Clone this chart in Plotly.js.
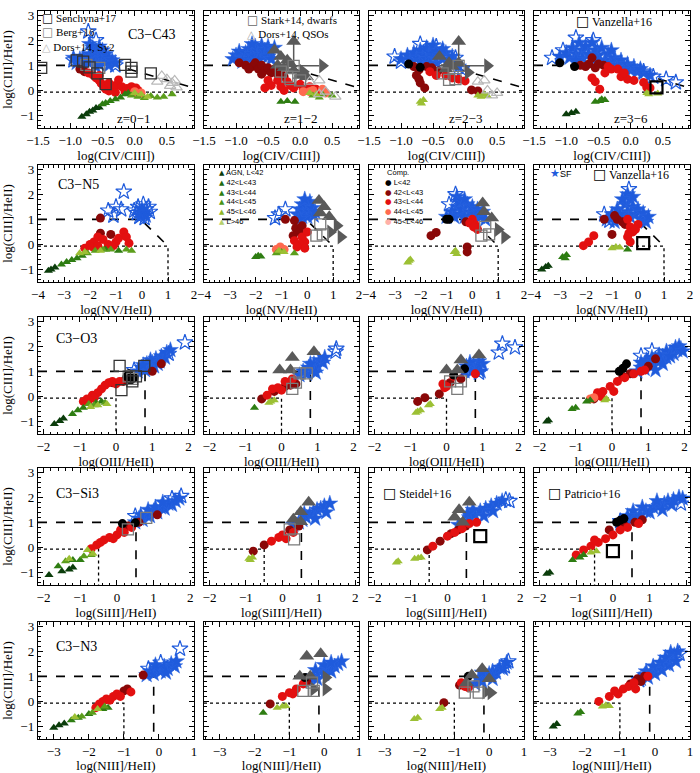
<!DOCTYPE html>
<html><head><meta charset="utf-8">
<script src="https://cdn.plot.ly/plotly-3.0.1.min.js"></script>
<style>body{margin:0;background:#fff}#plot{width:700px;height:773px}</style>
</head><body><div id="plot"></div>
<script>
// ---------------- DATA (index = row*4 + col) ----------------
const xTitles = ['log(CIV/CIII])','log(NV/HeII)','log(OIII/HeII)','log(SiIII]/HeII)','log(NIII]/HeII)'];
const yTitle = 'log(CIII]/HeII)';
const rowLabels = ['C3\u2212C43','C3\u2212N5','C3\u2212O3','C3\u2212Si3','C3\u2212N3'];
const zLabels = ['z=0\u22121','z=1\u22122','z=2\u22123','z=3\u22126'];
const xRanges = [[-1.5,0.92],[-4,2],[-2.15,2.15],[-2.15,2.1],[-3.45,1]];
const xDticks = [0.5,1,1,1,1];
const xMinor = [0.1,0.2,0.2,0.2,0.2];
const yRange = [-1.5,3.17];
const yTicks = [-1,0,1,2,3];

// dividing lines per row
const dashLines = [
  [[-1.5,1],[-0.3,1],[0.92,0.1]],
  [[-4,1],[-0.05,1],[1,-0.07]],
  [[-2.15,1],[0.8,1],[0.8,-1.5]],
  [[-2.15,1],[0.52,1],[0.52,-1.5]],
  [[-3.45,1],[-0.15,1],[-0.15,-1.5]]
];
const dotLines = [
  [[-1.5,-0.07],[0.92,-0.07]],
  [[-4,-0.07],[1,-0.07],[1,-1.5]],
  [[-2.15,-0.07],[0,-0.07],[0,-1.5]],
  [[-2.15,-0.07],[-0.5,-0.07],[-0.5,-1.5]],
  [[-3.45,-0.07],[-1,-0.07],[-1,-1.5]]
];

// star-forming models (filled blue stars)
const SF = [
 [[-0.9,1.1],[-0.85,1.25],[-0.8,1.35],[-0.75,1.2],[-0.7,1.45],[-0.7,1.1],[-0.65,1.3],[-0.6,1.55],[-0.6,1.2],[-0.55,1.4],[-0.55,1.05],[-0.5,1.3],[-0.5,1.6],[-0.45,1.15],[-0.45,1.45],[-0.4,1.3],[-0.4,1.0],[-0.35,1.2],[-0.3,1.1],[-0.65,1.7],[-0.7,1.85],[-0.95,1.3],[-0.55,1.75],[-0.6,0.95],[-0.8,1.0]],
 [[-1.0,1.4],[-0.95,1.55],[-0.9,1.3],[-0.85,1.5],[-0.8,1.65],[-0.8,1.25],[-0.75,1.45],[-0.7,1.75],[-0.7,1.35],[-0.65,1.55],[-0.6,1.8],[-0.6,1.4],[-0.55,1.6],[-0.5,1.75],[-0.5,1.35],[-0.45,1.5],[-0.4,1.7],[-0.9,1.15],[-0.65,1.2],[-0.75,1.85],[-1.05,1.25],[-0.45,1.25]],
 [[-1.0,1.25],[-0.9,1.4],[-0.85,1.2],[-0.8,1.5],[-0.75,1.3],[-0.7,1.6],[-0.7,1.15],[-0.65,1.4],[-0.6,1.7],[-0.6,1.25],[-0.55,1.5],[-0.5,1.35],[-0.5,1.8],[-0.45,1.55],[-0.45,1.1],[-0.4,1.4],[-0.35,1.25],[-0.3,1.5],[-0.25,1.2],[-0.2,1.35],[-0.15,1.1],[-0.1,0.95],[-0.55,1.05],[-0.35,1.65]],
 [[-1.1,1.35],[-1.0,1.5],[-0.95,1.3],[-0.9,1.7],[-0.85,1.45],[-0.8,1.9],[-0.75,1.6],[-0.75,1.3],[-0.7,1.75],[-0.65,1.45],[-0.6,1.9],[-0.6,1.25],[-0.55,1.6],[-0.5,1.4],[-0.45,1.7],[-0.4,1.2],[-0.35,1.45],[-0.3,1.1],[-0.25,1.3],[-0.2,1.0],[-0.15,1.2],[-0.1,0.9],[-0.05,1.05],[0.0,0.8],[0.05,0.95],[0.1,0.75],[0.15,0.85],[0.2,0.7],[-0.5,1.15],[-0.3,1.6],[-0.85,1.2],[0.3,0.6]],
 [[-0.1,1.3],[0.0,1.4],[0.1,1.25],[-0.05,1.15],[0.15,1.15]],
 [[-0.4,1.2],[-0.3,1.4],[-0.2,1.1],[-0.2,1.6],[-0.1,1.3],[0.0,1.5],[0.0,1.1],[0.1,1.7],[0.1,1.3],[0.2,1.45],[0.25,1.15],[-0.3,1.0],[0.3,1.3],[-0.1,1.8]],
 [[-1.0,1.1],[-0.8,1.3],[-0.7,1.1],[-0.6,1.5],[-0.5,1.2],[-0.4,1.4],[-0.3,1.1],[-0.2,1.6],[-0.1,1.3],[0.0,1.5],[0.1,1.2],[0.2,1.4],[0.3,1.1],[0.4,1.3],[-0.5,1.7],[-0.6,1.9],[-0.3,1.8],[0.5,1.0]],
 [[-1.2,1.0],[-1.0,1.2],[-0.9,0.9],[-0.8,1.4],[-0.6,1.1],[-0.5,1.6],[-0.4,1.3],[-0.3,1.8],[-0.3,1.1],[-0.2,1.5],[-0.1,1.2],[0.0,1.4],[0.1,1.0],[0.2,1.25],[0.3,0.9],[-0.4,2.0],[-0.2,1.9],[-0.6,1.8],[0.4,1.1],[-0.7,1.2]],
 [[0.6,1.0],[0.7,1.15],[0.8,1.05],[0.85,1.3],[0.9,1.2],[1.0,1.35],[1.05,1.2],[1.1,1.5],[1.2,1.4],[1.25,1.6],[1.35,1.55],[1.4,1.75],[1.5,1.85],[0.95,1.45],[0.75,1.25],[1.15,1.3]],
 [[0.5,0.85],[0.6,1.0],[0.7,0.9],[0.75,1.15],[0.85,1.05],[0.9,1.3],[1.0,1.2],[1.05,1.45],[1.15,1.35],[1.2,1.55],[0.8,1.3],[0.95,0.95]],
 [[0.5,1.0],[0.6,1.1],[0.7,1.0],[0.75,1.25],[0.85,1.15],[0.9,1.4],[1.0,1.3],[0.65,1.35],[0.95,1.0],[0.55,1.2]],
 [[0.7,1.0],[0.8,1.15],[0.9,1.1],[1.0,1.3],[1.1,1.2],[1.2,1.45],[1.3,1.4],[1.4,1.6],[1.5,1.55],[1.6,1.75],[1.7,1.7],[1.8,1.85],[1.9,1.9],[1.85,2.0],[1.5,1.8],[1.3,1.65],[1.1,1.55],[0.95,1.45],[1.4,1.3],[1.6,1.6],[1.75,1.95],[0.8,1.35],[1.2,1.05],[1.95,1.8]],
 [[0.5,1.0],[0.6,1.15],[0.7,1.1],[0.8,1.3],[0.9,1.25],[1.0,1.45],[1.1,1.4],[1.2,1.6],[1.3,1.55],[1.4,1.75],[1.5,1.7],[1.6,1.85],[1.7,1.95],[0.85,1.5],[1.05,1.6],[1.25,1.8],[0.65,1.3]],
 [[0.3,0.9],[0.45,1.0],[0.55,1.1],[0.65,1.2],[0.75,1.3],[0.85,1.4],[0.95,1.5],[1.05,1.55],[1.15,1.65],[1.3,1.75],[0.6,1.35],[0.9,1.15],[1.2,1.4]],
 [[0.3,0.9],[0.45,1.05],[0.6,1.2],[0.75,1.3],[0.9,1.45],[1.05,1.55],[1.2,1.65],[1.35,1.75],[1.5,1.85],[0.7,1.5],[1.0,1.25],[1.25,1.45],[0.55,1.35]],
 [[0.2,0.95],[0.35,1.05],[0.5,1.1],[0.6,1.25],[0.75,1.3],[0.9,1.45],[1.0,1.4],[1.1,1.6],[1.25,1.65],[1.4,1.75],[1.5,1.85],[1.65,1.9],[1.8,2.0],[1.9,1.95],[0.8,1.6],[1.2,1.85],[0.55,1.45],[1.35,1.5],[1.6,1.7],[0.4,1.25]],
 [[-0.35,1.05],[-0.25,1.2],[-0.15,1.1],[-0.05,1.3],[0.05,1.2],[0.15,1.4],[0.25,1.3],[0.35,1.5],[0.45,1.4],[0.5,1.6],[-0.1,1.45],[0.2,1.15]],
 [[-0.4,0.8],[-0.3,1.0],[-0.2,0.9],[-0.1,1.2],[0.0,1.1],[0.1,1.3],[0.2,1.2],[0.3,1.4],[0.4,1.5],[0.5,1.6],[0.0,1.45],[0.2,1.55],[-0.25,1.25]],
 [[-0.4,0.7],[-0.3,0.9],[-0.2,0.8],[-0.1,1.0],[0.0,1.1],[0.1,1.2],[0.2,1.15],[0.3,1.35],[0.4,1.3],[0.5,1.55],[-0.2,1.15],[0.1,0.9]],
 [[-0.4,0.9],[-0.3,1.05],[-0.2,0.95],[-0.1,1.2],[0.0,1.1],[0.1,1.35],[0.2,1.25],[0.3,1.5],[0.4,1.45],[0.5,1.7],[0.55,1.85],[0.6,1.6],[0.45,1.95],[0.3,1.75],[0.15,1.55],[-0.05,1.4],[-0.25,1.2],[0.65,2.0]]
];
// open blue stars (outliers of SF grid)
const SFOPEN = [
 [[-0.72,2.35],[-0.95,1.2],[-0.3,1.0],[-0.6,2.0]],
 [],
 [[-1.1,1.35],[-1.0,1.15],[-0.7,1.85],[-0.45,1.75],[-0.05,0.85],[-0.15,1.3]],
 [[-1.22,1.3],[-1.05,1.6],[-0.85,2.1],[-0.58,2.0],[0.2,0.75],[0.35,0.55],[0.55,0.45],[0.7,0.32]],
 [[-1.3,1.35],[-1.0,1.5],[-1.1,1.15],[-0.7,2.1],[-0.8,1.4],[-0.3,1.35],[-0.15,1.5],[0.05,1.6],[0.15,1.4],[0.25,1.5],[0.0,1.2],[0.3,1.3],[-0.1,1.1],[0.1,1.05],[-0.2,1.25]],
 [[-1.1,1.2],[-1.25,1.05],[-0.85,1.4]],
 [[-0.65,2.0],[-0.9,1.6]],
 [[-1.3,1.2],[-0.35,2.2],[-1.1,0.95]],
 [[1.9,2.15],[0.5,1.05],[1.45,1.7]],
 [[1.52,1.9],[1.5,1.78]],
 [[1.55,2.1],[1.9,1.95],[1.45,1.75],[0.9,0.95]],
 [[0.8,1.62],[1.1,1.82]],
 [[1.75,2.05],[1.5,1.95],[0.5,1.25]],
 [],
 [[1.6,1.9],[1.7,1.85]],
 [[0.2,1.05],[1.85,1.75]],
 [[0.6,2.1],[-0.3,1.3],[0.05,1.55]],
 [],
 [[0.55,1.6],[0.45,1.4]],
 [[-0.45,0.85],[0.7,1.9]]
];
// composite models by luminosity
const COMP_BLACK = [
 [],[],[[-0.88,1.05],[-0.7,0.92]],[[-1.1,1.1],[-0.87,0.95]],
 [],[],[[-1.0,1.0],[-0.9,1.0]],[],
 [[0.3,0.8],[0.4,0.65],[0.5,0.75],[0.35,0.9]],[],[[0.5,1.1],[0.2,0.85]],[[0.3,1.12],[0.4,1.3],[0.2,1.0]],
 [[0.15,0.95],[0.5,0.98]],[],[],[[0.1,1.0],[0.3,1.15],[0.2,1.08]],
 [],[[-0.55,0.95]],[[-0.6,1.0]],[]
];
const COMP_DARKRED = [
 [[-0.85,0.85],[-0.78,0.75]],
 [[-0.95,1.1],[-0.85,1.0],[-0.75,0.95],[-0.7,1.1],[-0.65,0.85],[-0.6,1.0],[-0.55,0.8],[-0.5,0.9],[-0.45,0.7],[-0.4,0.85],[-0.35,0.65],[-0.3,0.75],[-0.25,0.55],[-0.8,0.85],[-0.6,0.65]],
 [[-0.8,0.95],[-0.72,0.82],[-0.76,0.6],[-0.72,0.45],[-0.7,0.3],[-0.63,0.1],[-0.52,0.9],[-0.42,0.78],[0.1,0.02],[0.2,-0.02],[-0.6,0.95]],
 [[-0.78,1.0],[-0.65,1.05],[-0.6,1.3],[-0.55,0.9],[-0.42,1.0],[-0.7,0.95],[-0.5,1.05]],
 [[-1.6,1.05],[-1.6,0.45],[-1.2,0.4]],
 [[-0.85,1.0],[-0.5,0.95],[-0.45,0.65],[-0.3,0.5],[-0.55,0.35],[-0.2,0.75]],
 [[-0.25,0.9],[-1.6,0.35],[-1.4,0.48],[-0.2,-0.1],[-0.2,-0.3]],
 [[-1.3,1.0],[-1.0,0.4],[-0.8,1.0],[-0.6,0.9],[-0.5,0.8],[-0.9,1.15]],
 [[0.2,0.6],[-0.1,0.55],[1.0,1.0],[1.25,1.3]],
 [[-0.55,-0.1],[-0.2,0.2],[0.1,0.4],[0.4,0.5],[0.25,0.45]],
 [[-0.8,-0.2],[-0.6,-0.05],[-0.2,0.1],[0.1,0.55],[0.4,0.7]],
 [[1.2,1.5],[1.0,1.2],[0.5,0.9],[0.3,0.8],[-0.5,-0.1]],
 [[0.3,0.85],[1.1,1.3],[0.6,1.0]],
 [[-0.8,-0.15],[-0.5,0.1],[0.2,0.7],[0.45,0.85]],
 [[-0.55,-0.1],[-0.2,0.25],[0.1,0.55],[0.5,0.85],[0.3,0.7]],
 [[0.3,0.9],[0.6,1.0],[0.8,1.1],[-0.1,0.7]],
 [[-0.45,1.05],[-0.9,0.5],[-1.0,0.42]],
 [[-1.55,-0.1],[-0.5,0.8]],
 [[-1.3,-0.05],[-0.85,0.65]],
 [[-0.5,0.9],[-0.3,1.0],[-0.7,0.7],[-0.4,0.8]]
];
const COMP_RED = [
 [[-0.72,0.7],[-0.65,0.62],[-0.6,0.5],[-0.55,0.4],[-0.52,0.28],[-0.48,0.15],[-0.45,0.05],[-0.4,-0.02],[-0.35,0.05],[-0.3,0.2],[-0.25,0.42],[-0.2,0.15],[-0.12,0.08],[-0.05,0.15],[0.02,0.1],[0.05,0.0],[-0.15,-0.05],[-0.3,-0.08],[-0.4,0.3],[-0.55,0.6]],
 [[-0.5,0.4],[-0.45,0.2],[-0.35,0.4],[-0.3,0.15],[-0.2,0.35],[-0.15,0.2],[-0.1,0.1],[0.0,0.25],[0.05,0.05],[0.15,0.15],[0.25,0.05],[0.3,-0.05],[-0.55,0.1],[-0.25,0.0]],
 [[-0.55,0.75],[-0.3,0.6],[-0.1,0.45],[0.0,0.38],[-0.2,0.5],[-0.45,0.6]],
 [[-0.35,0.95],[-0.3,0.85],[-0.2,0.85],[-0.6,0.5],[-0.55,0.35],[-0.48,0.05],[-0.15,0.55],[-0.05,0.45],[0.05,0.4],[0.2,0.32],[0.25,0.12],[0.3,0.1],[-0.4,0.7],[-0.1,0.7]],
 [[-2.2,-0.15],[-2.0,0.0],[-1.85,0.1],[-1.7,0.3],[-1.5,0.2],[-1.3,0.0],[-1.0,0.1],[-0.9,0.25],[-0.7,0.5],[-0.6,0.3],[-0.5,0.05],[-1.1,-0.05],[-1.9,-0.1],[-1.7,-0.05]],
 [[-0.2,0.3],[-0.1,0.1],[-0.3,0.0],[-0.1,-0.15],[-0.5,0.15],[0.0,0.5],[-0.4,-0.1]],
 [[0.0,1.0],[0.1,0.8],[0.2,0.6],[-0.1,0.85],[0.05,0.7]],
 [[-2.1,-0.05],[-1.9,0.1],[-1.7,0.35],[-0.4,1.0],[-0.3,0.7],[-0.2,0.5],[-0.4,0.3],[-0.3,0.1],[0.0,0.8],[-0.35,0.45],[-0.1,0.6]],
 [[-0.9,-0.2],[-0.8,-0.1],[-0.65,0.05],[-0.5,0.15],[-0.4,0.3],[-0.3,0.45],[-0.2,0.55],[-0.1,0.6],[0.0,0.5],[0.1,0.6],[-0.6,-0.05],[-0.75,-0.15]],
 [[-0.4,0.05],[-0.25,0.3],[0.0,0.25],[0.1,0.6],[-0.1,0.35],[0.3,0.7]],
 [[-0.1,0.5],[0.0,0.4],[0.2,0.8],[0.8,0.9],[-0.05,0.35]],
 [[-0.25,0.2],[-0.05,0.4],[0.15,0.6],[0.35,0.75],[0.6,0.9],[0.8,1.0],[-0.3,0.0],[-0.4,0.15],[0.05,0.2],[0.9,1.05]],
 [[-0.7,-0.05],[-0.55,0.1],[-0.35,0.3],[-0.2,0.4],[0.0,0.5],[0.2,0.6],[-0.45,0.2],[0.1,0.7],[-0.1,0.35],[0.4,0.8]],
 [[-0.3,0.25],[-0.1,0.4],[0.0,0.5],[0.1,0.35],[0.3,0.6]],
 [[-0.4,0.05],[0.0,0.45],[0.2,0.6],[0.6,0.95],[0.8,1.0],[0.4,0.75]],
 [[-1.0,-0.3],[-0.8,-0.1],[-0.6,0.05],[-0.4,0.2],[-0.2,0.35],[0.0,0.5],[0.2,0.7],[0.4,0.8],[-0.5,0.3],[0.7,0.95]],
 [[-1.8,-0.25],[-1.7,-0.1],[-1.5,0.1],[-1.3,0.2],[-1.2,0.3],[-1.1,0.2],[-0.8,0.38],[-1.6,0.0],[-1.4,0.05]],
 [[-1.2,0.2],[-1.0,0.35],[-0.8,0.5],[-0.6,0.7],[-0.9,0.3]],
 [[-0.8,0.75],[-0.6,0.55],[-0.7,0.6]],
 [[-1.6,0.0],[-1.3,0.2],[-1.05,0.3],[-0.9,0.5],[-0.75,0.6],[-0.55,0.5],[-0.2,1.0],[-1.15,0.42],[-0.6,0.75]]
];
const COMP_LIGHT = [
 [[0.0,-0.05],[0.1,-0.1]],
 [[0.05,-0.05],[0.2,0.0],[0.35,0.05],[0.4,-0.1],[0.15,-0.05]],
 [],[],[],
 [[-1.2,-0.2],[-1.05,-0.1],[-0.9,-0.2]],
 [],[],[],[],[],
 [[-0.6,-0.1],[-0.5,-0.05]],
 [],[],[],[],[],[],[],[]
];
// AGN models by luminosity (dark -> light green)
const AGN1 = [
 [[-0.82,-1.05],[-0.75,-0.95],[-0.7,-0.85],[-0.65,-0.8],[-0.6,-0.7],[-0.55,-0.68]],
 [],[],[[-1.0,-0.95],[-0.92,-0.9],[-0.85,-0.85]],
 [[-3.6,-1.05],[-3.5,-1.0],[-3.35,-0.92]],[],[],[[-3.7,-1.0],[-3.55,-0.9],[-3.45,-0.85]],
 [[-1.7,-1.1],[-1.55,-0.98],[-1.45,-0.88]],[],[],[[-1.8,-1.0],[-1.75,-0.95]],
 [[-1.85,-1.1],[-1.5,-0.95],[-1.3,-0.88],[-1.2,-0.8]],[],[],[[-1.8,-1.05],[-1.72,-1.0]],
 [[-3.0,-1.05],[-2.85,-0.95],[-2.7,-0.88]],[],[],[[-2.9,-1.0],[-2.8,-0.9]]
];
const AGN2 = [
 [[-0.5,-0.55],[-0.45,-0.5],[-0.38,-0.42],[-0.3,-0.35],[-0.22,-0.28],[-0.15,-0.15],[-0.1,-0.1]],
 [[-0.3,-0.45],[-0.2,-0.42],[-0.08,-0.45]],
 [],
 [[-0.55,-0.45],[-0.48,-0.42],[-0.4,-0.38],[-0.45,-0.35]],
 [[-3.1,-0.8],[-2.9,-0.7],[-2.7,-0.62],[-2.5,-0.55],[-2.3,-0.45],[-1.4,-0.2],[-0.9,-0.25]],
 [[-2.0,-0.5],[-1.9,-0.45],[-1.8,-0.48]],
 [],
 [[-2.9,-0.5],[-2.75,-0.42],[-2.8,-0.55],[-0.4,-0.2]],
 [[-1.2,-0.7],[-1.05,-0.55],[-0.9,-0.45],[-0.55,-0.25],[-0.4,-0.2]],
 [[-0.75,-0.45]],
 [],
 [[-1.1,-0.5],[-1.0,-0.45],[-0.7,-0.2],[-0.6,-0.15]],
 [[-1.6,-0.75],[-1.2,-0.5],[-1.0,-0.5]],
 [],[],
 [[-1.1,-0.5],[-0.9,-0.4],[-0.8,-0.3]],
 [[-2.5,-0.75],[-2.3,-0.65],[-2.0,-0.5],[-1.6,-0.3],[-1.45,-0.25]],
 [[-1.75,-0.45]],
 [],
 [[-2.2,-0.48],[-2.12,-0.42]]
];
const AGN3 = [
 [[-0.05,-0.2],[0.05,-0.25],[0.15,-0.3],[0.25,-0.22],[0.35,-0.28],[0.45,-0.25],[0.58,-0.15]],
 [[0.2,-0.2],[0.3,-0.28],[0.35,-0.15],[0.5,-0.2]],
 [],[],
 [[-2.1,-0.35],[-1.8,-0.25],[-1.5,-0.2],[-1.2,-0.2],[-0.6,-0.2],[-0.4,-0.25]],
 [[-1.2,-0.35],[-1.0,-0.3],[-0.5,-0.35]],
 [],[],
 [[-0.75,-0.3],[-0.6,-0.35],[-0.3,-0.25]],
 [],[],[],
 [[-1.4,-0.55],[-0.9,-0.35],[-0.7,-0.3]],
 [],[],[],
 [[-2.2,-0.6],[-1.9,-0.45],[-1.55,-0.2]],
 [],[],[]
];
const AGN4 = [
 [[0.0,-0.1],[0.1,-0.15],[0.2,-0.25]],
 [[0.15,-0.1],[0.25,-0.15]],
 [[-0.7,-0.45],[-0.65,-0.38],[-0.68,-0.52],[0.2,-0.2],[0.25,-0.25],[0.3,-0.15],[0.35,-0.22]],
 [[0.25,-0.1],[0.28,-0.15],[0.42,-0.12]],
 [[-2.4,-0.35],[-2.2,-0.3],[-1.6,-0.25]],
 [[-1.1,-0.25],[-0.9,-0.3]],
 [[-2.45,-0.65],[-2.5,-0.72],[-2.4,-0.6],[-0.7,-0.3],[-0.6,-0.38],[-0.65,-0.25]],
 [[-1.0,-0.15],[-0.85,-0.1],[-0.7,-0.12]],
 [[-0.7,-0.42],[-0.5,-0.35],[-0.25,-0.3]],
 [[-0.3,-0.2],[-0.2,-0.15],[-0.35,-0.25]],
 [[-0.8,-0.6],[-0.72,-0.55],[-0.45,-0.3],[-0.5,-0.35],[-0.85,-0.65]],
 [[-0.2,-0.15],[-0.15,-0.1]],
 [[-0.8,-0.1],[-0.65,-0.25],[-1.3,-0.45]],
 [[-0.92,-0.45],[-0.82,-0.4],[-0.88,-0.5]],
 [[-1.4,-0.6],[-1.35,-0.55],[-0.9,-0.45],[-0.72,-0.4],[-0.8,-0.42]],
 [[-0.6,-0.2],[-0.45,-0.15]],
 [[-2.4,-0.62],[-1.75,-0.3]],
 [[-1.35,-0.25],[-1.2,-0.2],[-1.1,-0.18]],
 [[-2.05,-0.65],[-2.15,-0.7],[-1.42,-0.3],[-1.35,-0.25]],
 [[-1.5,-0.2],[-1.4,-0.15],[-1.3,-0.18]]
];
// observed limits (gray filled triangles: up = lower limit on y, right = lower limit on x)
const OBS_UP = [
 [],
 [[-0.4,1.6],[-0.3,1.35],[-0.2,1.2],[-0.35,1.0],[-0.25,0.9],[-0.1,0.8],[0.0,0.6],[0.1,0.55],[-0.15,1.05],[-0.1,1.95]],
 [[-0.4,1.35],[-0.25,1.1],[-0.3,0.85],[-0.1,1.1],[-0.2,0.95],[-0.1,1.95]],
 [],[],
 [[0.45,1.75],[0.65,1.5],[0.85,1.1],[0.5,1.25]],
 [[0.4,1.65],[0.75,1.05],[0.45,1.3]],
 [],[],
 [[-0.05,1.05],[0.3,1.55],[0.25,1.05],[0.9,1.78]],
 [[0.0,1.05],[0.3,1.05],[0.4,1.45],[0.9,1.65]],
 [],[],
 [[0.3,1.12],[0.5,1.42],[0.72,1.8],[0.5,1.02]],
 [[0.2,1.2],[0.32,1.5],[0.6,1.8],[0.42,1.0]],
 [],[],
 [[-0.5,1.8],[-0.1,1.9],[-0.7,1.0],[-0.4,1.0]],
 [[-0.5,1.05],[-0.2,1.3],[-0.65,0.75],[0.0,0.9]],
 []
];
const OBS_RIGHT = [
 [],[[0.35,0.98],[0.05,0.75]],[[0.35,0.98],[0.05,0.72]],[],
 [],[[1.15,0.75],[1.3,0.3],[0.9,0.5]],[[1.0,0.6],[1.25,0.3]],[],
 [],[],[],[],
 [],[],[],[],
 [],[[0.05,0.5],[0.05,0.95],[-0.3,0.5]],[[-0.1,0.38],[0.05,0.35]],[]
];
// limit bars: [x1,y1,x2,y2]
const OBS_BARS = [
 [],[[-0.1,0.98,-0.1,1.9],[-0.4,0.98,0.3,0.98]],[[-0.1,0.98,-0.1,1.9],[-0.4,0.98,0.3,0.98]],[],
 [],[],[],[],[],[],[],[],[],[],[],[],[],[],[],[]
];
// Senchyna+17 (black open squares)
const SQ_SENCHYNA = [
 [[-1.45,0.9],[-0.9,1.2],[-0.8,1.15],[-0.7,0.92],[-0.58,0.68],[-0.45,0.25],[-0.15,1.02],[-0.05,0.9],[-0.05,0.75],[0.25,0.68]],
 [],[],[],[],[],[],[],
 [[0.1,1.22],[0.15,0.25],[0.45,0.6],[0.78,1.22],[0.55,0.8]],
 [],[],[],[],[],[],[],[],[],[],[]
];
// Berg+16 / Stark+14 (gray open squares)
const SQ_GRAY = [
 [[-0.75,1.02],[-0.55,0.9]],
 [[-0.1,0.98],[-0.3,0.75],[-0.2,0.55],[-0.15,0.45],[0.0,0.4]],
 [[-0.35,0.68],[-0.25,0.42],[-0.15,0.45],[-0.1,0.98]],
 [],[],
 [[0.5,0.8],[0.6,0.4],[0.35,0.35]],
 [[0.5,0.7],[0.35,0.35],[0.65,0.4]],
 [],
 [[0.35,0.8],[0.45,0.7]],
 [[0.5,0.92],[0.3,0.3],[0.7,0.92],[0.4,0.55]],
 [[0.1,0.6],[0.3,0.3],[0.4,0.6]],
 [],
 [[0.3,0.72],[0.8,1.18]],
 [[0.2,0.72],[0.32,0.32]],
 [],[],[],
 [[-0.6,0.42],[-0.3,0.42],[-0.35,0.75]],
 [[-0.7,0.35],[-0.3,0.35],[-0.45,0.6]],
 []
];
// Vanzella+16 / Steidel+16 / Patricio+16 (thick black squares)
const SQ_THICK = [
 [],[],[],[[0.4,0.12]],
 [],[],[],[[0.2,0.05]],
 [],[],[],[],
 [],[],[[0.9,0.45]],[[0.0,-0.15]],
 [],[],[],[]
];
// Dors+14 Sy2 / QSOs (open light-gray triangles)
const TRI_DORS = [
 [[0.35,0.35],[0.42,0.58],[0.5,0.45],[0.58,0.3],[0.62,0.4],[0.55,0.18],[0.65,0.12]],
 [[0.15,0.35],[0.3,0.4],[0.3,-0.15],[0.55,-0.25],[0.4,-0.05]],
 [[0.2,0.35],[0.3,0.4],[0.35,0.0],[0.5,-0.1],[0.42,-0.2]],
 [],[],[],[],[],[],[],[],[],[],[],[],[],[],[],[],[]
];
// legend labels
const agnLab = ['AGN, L&lt;42','42&lt;L&lt;43','43&lt;L&lt;44','44&lt;L&lt;45','45&lt;L&lt;46','L&gt;46'];
const compLab = ['L&lt;42','42&lt;L&lt;43','43&lt;L&lt;44','44&lt;L&lt;45','45&lt;L&lt;46'];

// ---------------- LAYOUT GEOMETRY (pixels) ----------------
const W = 700, H = 773;
const colL = [38,204,369,534], colR = [194,359,524,690];
const rowT = [11,165,317,468,622], rowB = [128,282,434,585,739];

const C = {
  blue:'#1f5bdc', black:'#000000', dred:'#8a0808', red:'#e31010', lred:'#ff6a50',
  g1:'#0b3d0b', g2:'#2e7d12', g3:'#5c9e1c', g4:'#9cc034', gray:'#5a5a5a', lgray:'#b8b8b8'
};
const agnCol = ['#0b3d0b','#1f6b12','#2e7d12','#4a9418','#8fb62a','#b5cf6a'];
const compCol = ['#000','#8a0808','#e31010','#ff6a50','#ffb0a8'];
const FONT = 'Liberation Serif, Times New Roman, serif';

const traces = [];
const layout = {
  width:W, height:H, margin:{l:0,r:0,t:0,b:0}, showlegend:false,
  paper_bgcolor:'#fff', plot_bgcolor:'#fff', font:{family:FONT, size:13, color:'#000'},
  annotations:[]
};
function ax(i){ return i===0 ? '' : String(i+1); }
function pts(list, i, marker){
  if(!list || !list.length) return;
  traces.push({type:'scatter', mode:'markers', x:list.map(p=>p[0]), y:list.map(p=>p[1]),
    xaxis:'x'+ax(i), yaxis:'y'+ax(i), marker:marker, hoverinfo:'skip'});
}
function poly(list, i, line){
  traces.push({type:'scatter', mode:'lines', x:list.map(p=>p[0]), y:list.map(p=>p[1]),
    xaxis:'x'+ax(i), yaxis:'y'+ax(i), line:line, hoverinfo:'skip'});
}

for(let r=0;r<5;r++){
  for(let c=0;c<4;c++){
    const i = r*4+c, id = ax(i);
    layout['xaxis'+id] = {
      domain:[colL[c]/W, colR[c]/W], anchor:'y'+id, range:xRanges[r],
      tick0:0, dtick:xDticks[r], tickformat: r===0 ? '.1f' : 'd',
      ticks:'inside', ticklen:5, tickwidth:1, tickcolor:'#000',
      minor:{ticks:'inside', ticklen:2.5, dtick:xMinor[r], tick0:0, tickcolor:'#000'},
      showline:true, linecolor:'#000', linewidth:1.2, mirror:'allticks', showgrid:false, zeroline:false,
      tickfont:{family:FONT, size:13}, fixedrange:true,
      title:{text:xTitles[r], font:{family:FONT, size:13}, standoff:4}
    };
    layout['yaxis'+id] = {
      domain:[1-rowB[r]/H, 1-rowT[r]/H], anchor:'x'+id, range:yRange,
      tickvals:yTicks, ticktext:yTicks.map(v=> v<0 ? '\u2212'+Math.abs(v) : String(v)),
      ticks:'inside', ticklen:5, tickwidth:1, tickcolor:'#000',
      minor:{ticks:'inside', ticklen:2.5, dtick:0.2, tick0:0, tickcolor:'#000'},
      showline:true, linecolor:'#000', linewidth:1.2, mirror:'allticks', showgrid:false, zeroline:false,
      showticklabels: c===0, tickfont:{family:FONT, size:13}, fixedrange:true,
      title:{text: c===0 ? yTitle : '', font:{family:FONT, size:13}, standoff:4}
    };
    poly(dotLines[r], i, {color:'#000', width:1.3, dash:'dot'});
    poly(dashLines[r], i, {color:'#000', width:1.6, dash:'dash'});
    pts(SF[i], i, {symbol:'star', size:12, color:C.blue, line:{color:'#2a64e0', width:0.5}});
    pts(SFOPEN[i], i, {symbol:'star-open', size:12, color:C.blue, line:{width:1.2}});
    pts(COMP_DARKRED[i], i, {symbol:'circle', size:9, color:C.dred});
    pts(COMP_RED[i], i, {symbol:'circle', size:9, color:C.red});
    pts(COMP_LIGHT[i], i, {symbol:'circle', size:9, color:C.lred});
    pts(AGN1[i], i, {symbol:'triangle-up', size:8, color:C.g1});
    pts(AGN2[i], i, {symbol:'triangle-up', size:8, color:C.g2});
    pts(AGN3[i], i, {symbol:'triangle-up', size:8, color:C.g3});
    pts(AGN4[i], i, {symbol:'triangle-up', size:8, color:C.g4});
    pts(COMP_BLACK[i], i, {symbol:'circle', size:9, color:C.black});
    OBS_BARS[i].forEach(s => poly([[s[0],s[1]],[s[2],s[3]]], i, {color:C.gray, width:1.5}));
    pts(OBS_UP[i], i, {symbol:'triangle-up', size:13, color:C.gray});
    pts(OBS_RIGHT[i], i, {symbol:'triangle-right', size:13, color:C.gray});
    pts(TRI_DORS[i], i, {symbol:'triangle-up-open', size:10, color:C.lgray, line:{width:1.2}});
    pts(SQ_GRAY[i], i, {symbol:'square-open', size:11, color:'#7a7a7a', line:{width:1.3}});
    pts(SQ_SENCHYNA[i], i, {symbol:'square-open', size:11, color:'#333', line:{width:1.3}});
    pts(SQ_THICK[i], i, {symbol:'square-open', size:12, color:'#000', line:{width:2.2}});
  }
}

// ---------------- TEXT ----------------
function txt(px, py, text, opts){
  layout.annotations.push(Object.assign({xref:'paper', yref:'paper', x:px/W, y:1-py/H,
    text:text, showarrow:false, xanchor:'left', yanchor:'top', align:'left', borderpad:0,
    font:{family:FONT, size:11, color:'#000'}}, opts||{}));
}
// symbol glyph + black label, each in its own span so colours cannot leak
const item = (ch, col, sz, label, bold) =>
  '<span style="color:'+col+';font-family:DejaVu Sans;font-size:'+sz+'px'+(bold?';font-weight:bold':'')+'">'+ch+'</span>' +
  '<span style="color:#000"> '+label+'</span>';
// row labels
txt(127, 26, rowLabels[0], {font:{family:FONT,size:14}});
txt(57, 176, rowLabels[1], {font:{family:FONT,size:14}});
txt(55, 330, rowLabels[2], {font:{family:FONT,size:14}});
txt(55, 485, rowLabels[3], {font:{family:FONT,size:14}});
txt(55, 638, rowLabels[4], {font:{family:FONT,size:14}});
// redshift labels
const zpx = [116, 283, 448, 613];
zLabels.forEach((z,c) => txt(zpx[c], 110, z, {font:{family:FONT,size:13}}));
// legends (one text block each)
txt(41, 10, [item('\u25A1','#222',12,'Senchyna+17'), item('\u25A1','#888',12,'Berg+16'), item('\u25B3','#bbb',11,'Dors+14, Sy2')].join('<br>'), {font:{family:FONT,size:11}});
txt(246, 12, [item('\u25A1','#666',12,'Stark+14, dwarfs'), item('\u25B3','#aaa',11,'Dors+14, QSOs')].join('<br>'), {font:{family:FONT,size:11}});
txt(575, 12, item('\u25A1','#000',14,'Vanzella+16',true), {font:{family:FONT,size:12}});
txt(218, 167, agnLab.map((t,k)=> item('\u25B2',agnCol[k],7,t)).join('<br>'), {font:{family:'Liberation Sans, Arial, sans-serif',size:7.5}});
txt(384, 167, ['<span style="color:#000">&nbsp;Comp.</span>'].concat(compLab.map((t,k)=> item('\u25CF',compCol[k],7.5,t))).join('<br>'), {font:{family:'Liberation Sans, Arial, sans-serif',size:7.5}});
txt(549, 166, '<span style="color:'+C.blue+';font-family:DejaVu Sans;font-size:11px">\u2605</span><span style="color:#000;font-family:Liberation Sans;font-size:9px">SF</span>', {font:{family:FONT,size:10}});
txt(592, 165, item('\u25A1','#000',14,'Vanzella+16',true), {font:{family:FONT,size:12}});
txt(382, 484, item('\u25A1','#000',14,'Steidel+16',true), {font:{family:FONT,size:12}});
txt(547, 484, item('\u25A1','#000',14,'Patricio+16',true), {font:{family:FONT,size:12}});

Plotly.newPlot('plot', traces, layout, {staticPlot:true, displayModeBar:false});
</script>
</body></html>
